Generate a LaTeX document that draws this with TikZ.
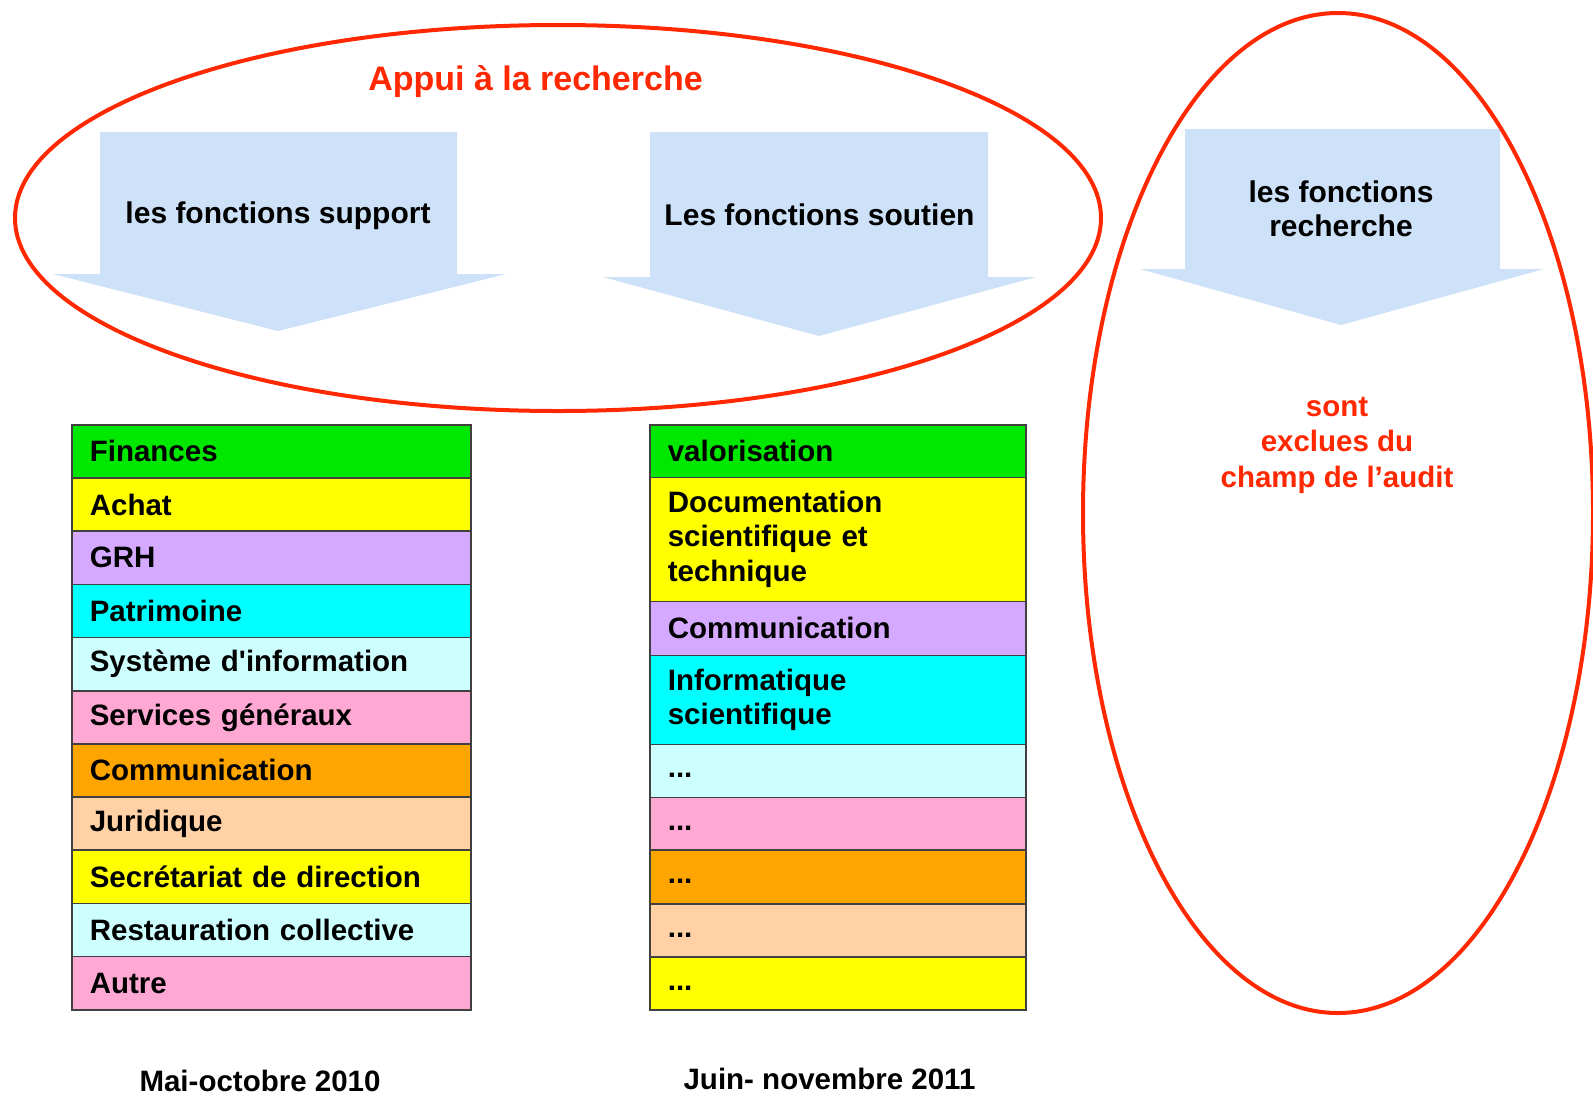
\documentclass[tikz,border=0pt]{standalone}
\usepackage{fontspec}
\setmainfont{Liberation Sans}
\usetikzlibrary{shapes.geometric}
\definecolor{redline}{RGB}{255,40,0}
\definecolor{arrowblue}{RGB}{205,226,248}
\definecolor{cgreen}{RGB}{0,232,0}
\definecolor{cyellow}{RGB}{255,255,0}
\definecolor{clav}{RGB}{212,169,255}
\definecolor{ccyan}{RGB}{0,255,255}
\definecolor{clcyan}{RGB}{206,255,255}
\definecolor{cpink}{RGB}{255,168,212}
\definecolor{corange}{RGB}{255,165,0}
\definecolor{cpeach}{RGB}{255,209,164}
\newcommand\straightquote{{\addfontfeature{Ligatures=TeXOff}'}}
\tikzset{
  ring/.style={draw=redline, line width=4pt, ellipse, inner sep=0pt},
  bigarrow/.style={fill=arrowblue},
  arrowtext/.style={font=\bfseries\fontsize{30}{34.5}\selectfont, align=center, inner sep=0pt},
  redtext/.style={text=redline, font=\bfseries\fontsize{29.5}{35.5}\selectfont, align=center, inner sep=0pt},
  lrow/.style={draw=black!75, line width=1.6pt, anchor=north west, minimum width=399pt, text width=363pt, inner xsep=18pt, inner ysep=0pt, align=left, font=\bfseries\fontsize{29.5}{34.5}\selectfont},
  rrow/.style={lrow, minimum width=376pt, text width=340pt},
  caption/.style={font=\bfseries\fontsize{29.5}{34}\selectfont, inner sep=0pt}
}
\begin{document}
\begin{tikzpicture}[x=1pt,y=-1pt]
\useasboundingbox (0,0) rectangle (1593,1096);
\fill[white] (0,0) rectangle (1593,1096);
% arrows
\fill[bigarrow] (100,132) -- (457,132) -- (457,274) -- (506,274) -- (278,331) -- (53,274) -- (100,274) -- cycle;
\fill[bigarrow] (650,132) -- (988,132) -- (988,277) -- (1036,277) -- (819,336) -- (603,277) -- (650,277) -- cycle;
\fill[bigarrow] (1185,129) -- (1500,129) -- (1500,269) -- (1544,269) -- (1341,325) -- (1140,269) -- (1185,269) -- cycle;
\node[arrowtext] (support) at (278,216) {les fonctions support};
\node[arrowtext] (soutien) at (819.5,215) {Les fonctions soutien};
\node[arrowtext] (rech) at (1341,209) {les fonctions\\recherche};
% ellipses
\node[ring, minimum width=1086pt, minimum height=386pt] (appui) at (558,218) {};
\node[ring, minimum width=510pt, minimum height=1000pt] (excl) at (1338,513) {};
\node[redtext, font=\bfseries\fontsize{34}{40}\selectfont] (title) at (535.5,82) {Appui à la recherche};
\node[redtext] (sont) at (1337,445) {sont\\exclues du\\champ de l’audit};
% left list
\node[lrow, fill=cgreen, minimum height=53.2pt] (l1) at (71,424) {Finances};
\node[lrow, fill=cyellow, minimum height=53.2pt] (l2) at (71,477.2) {Achat};
\node[lrow, fill=clav, minimum height=53.2pt] (l3) at (71,530.3) {GRH};
\node[lrow, fill=ccyan, minimum height=53.2pt] (l4) at (71,583.5) {Patrimoine};
\node[lrow, fill=clcyan, minimum height=53.2pt] (l5) at (71,636.7) {Système d\straightquote information};
\node[lrow, fill=cpink, minimum height=53.2pt] (l6) at (71,689.9) {Services généraux};
\node[lrow, fill=corange, minimum height=53.2pt] (l7) at (71,743) {Communication};
\node[lrow, fill=cpeach, minimum height=53.2pt] (l8) at (71,796.2) {Juridique};
\node[lrow, fill=cyellow, minimum height=53.2pt] (l9) at (71,849.4) {Secrétariat de direction};
\node[lrow, fill=clcyan, minimum height=53.2pt] (l10) at (71,902.5) {Restauration collective};
\node[lrow, fill=cpink, minimum height=53.2pt] (l11) at (71,955.7) {Autre};
% right list
\node[rrow, fill=cgreen, minimum height=52.5pt] (r1) at (649,424) {valorisation};
\node[rrow, fill=cyellow, minimum height=124pt] (r2) at (649,476.5) {Documentation\\scientifique et\\technique};
\node[rrow, fill=clav, minimum height=54pt] (r3) at (649,600.5) {Communication};
\node[rrow, fill=ccyan, minimum height=89pt] (r4) at (649,654.5) {Informatique\\scientifique};
\node[rrow, fill=clcyan, minimum height=53pt] (r5) at (649,743.5) {\strut...};
\node[rrow, fill=cpink, minimum height=52.5pt] (r6) at (649,796.5) {\strut...};
\node[rrow, fill=corange, minimum height=54pt] (r7) at (649,849) {\strut...};
\node[rrow, fill=cpeach, minimum height=53pt] (r8) at (649,903) {\strut...};
\node[rrow, fill=cyellow, minimum height=53pt] (r9) at (649,956) {\strut...};
% captions
\node[caption] (cap1) at (260,1081) {Mai-octobre 2010};
\node[caption] (cap2) at (829.5,1079) {Juin- novembre 2011};
\end{tikzpicture}
\end{document}
